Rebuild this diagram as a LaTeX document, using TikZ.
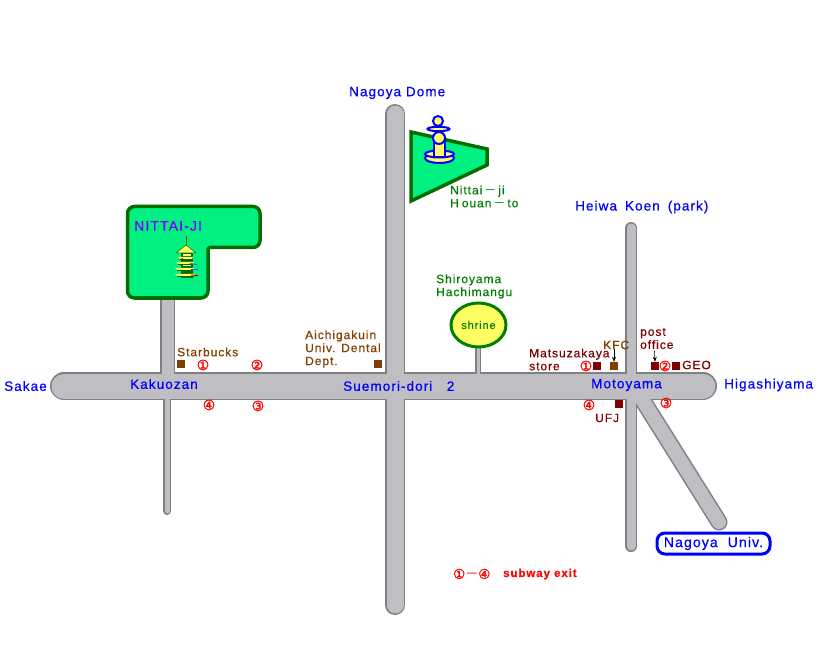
\documentclass[tikz,border=0pt]{standalone}
\usepackage{fontspec}
\usetikzlibrary{arrows.meta,shapes.geometric}
\setmainfont{Liberation Sans}
\newfontfamily\symf[FakeBold=1.5]{DejaVu Sans}
\newfontfamily\wide[LetterSpace=8,FakeBold=0.5]{Liberation Sans}
\newfontfamily\cjkf{Noto Sans CJK JP}
\newcommand{\fwdash}{\hspace{2pt}{\cjkf －}\hspace{2pt}}
\definecolor{roadfill}{RGB}{190,190,195}
\definecolor{roadedge}{RGB}{128,128,128}
\definecolor{parkfill}{RGB}{0,240,130}
\definecolor{parkedge}{RGB}{0,110,0}
\definecolor{pale}{RGB}{255,255,100}
\definecolor{lblgreen}{RGB}{0,128,0}
\definecolor{lblbrown}{RGB}{128,64,0}
\definecolor{lbldred}{RGB}{128,0,0}
\definecolor{lblpurple}{RGB}{128,0,255}
\tikzset{
  x=1pt,y=-1pt,
  roadedgeS/.style={draw=roadedge,line cap=round,line width=#1+3pt},
  roadfillS/.style={draw=roadfill,line cap=round,line width=#1},
  park/.style={draw=parkedge,fill=parkfill,line width=3.5pt,line join=round},
  place/.style={font=\wide\fontsize{13.5}{13.5}\selectfont,text=blue,inner sep=0pt,anchor=west},
  brownlab/.style={font=\wide\fontsize{12}{13}\selectfont,text=lblbrown,inner sep=0pt,anchor=west,align=left},
  redlab/.style={font=\wide\fontsize{12}{13}\selectfont,text=lbldred,inner sep=0pt,anchor=west,align=left},
  greenlab/.style={font=\wide\fontsize{12}{13}\selectfont,text=lblgreen,inner sep=0pt,anchor=west,align=left},
  exitmark/.style={font=\symf\fontsize{14}{14}\selectfont,text=red,inner sep=0pt},
  shopb/.style={fill=lblbrown,minimum size=8pt,inner sep=0pt},
  shopr/.style={fill=lbldred,minimum size=8pt,inner sep=0pt},
  statue/.style={draw=blue,fill=pale,line width=2pt},
  roof/.style={fill=pale,draw=parkedge,line width=.5pt},
  pointer/.style={draw=black,line width=.6pt,-{Stealth[length=5pt,width=4pt]}}
}
\begin{document}
\begin{tikzpicture}
\useasboundingbox (0,0) rectangle (817,647);
\fill[white] (0,0) rectangle (817,647);
% roads: edges first, then fills so that the junctions merge
\def\roads#1{%
  \draw[#1=25pt] (64,386) -- (703,386);
  \draw[#1=17pt] (395,114) -- (395,605);
  \draw[#1=12pt] (167.5,295) -- (167.5,386);
  \draw[#1=5pt] (167,386) -- (167,511);
  \draw[#1=9pt] (631,228) -- (631,546);
  \draw[#1=14pt] (640,396) -- (719,522);
  \draw[#1=3pt] (478,345) -- (478,386);
}
\roads{roadedgeS}
\roads{roadfillS}
% Nittai-ji park
\draw[park] (127.5,214) [rounded corners=7pt] -- (127.5,206.5) -- (260,206.5) -- (260,247.5) [rounded corners=1.5pt] -- (208,247.5) [rounded corners=7pt] -- (208,298) -- (127.5,298) -- (127.5,214);
\node[font=\wide\fontsize{14}{14}\selectfont,text=lblpurple,inner sep=0pt,anchor=west] (nittai) at (134,226) {NITTAI-JI};
% pagoda
\draw[parkedge,line width=1pt] (186,236) -- (186,247);
\fill[parkedge] (181,252) rectangle (193,278);
\fill[pale] (183,254) rectangle (191,256);
\fill[pale] (183,263) rectangle (191,266);
\foreach \yy/\xa/\xb in {258/178/196,263/176/197,269/175/197,275/175/198}{
  \fill[pale] (\xa,\yy-1) -- (\xb-3,\yy-1) -- (\xb-4,\yy+1) -- (\xa+2,\yy+1) -- cycle;
  \draw[parkedge,line width=.6pt] (\xa+2,\yy+1.5) -- (\xb-4,\yy+1.5);
}
\draw[red!70!black,line width=1pt] (183,258.5) -- (180,260);
\draw[blue!70!cyan,line width=.8pt] (190,263.5) -- (197,264.5);
\draw[blue!70!cyan,line width=.8pt] (191,269.5) -- (198,269.5);
\draw[red!70!black,line width=1pt] (191,275) -- (198,275.5);
\draw[roof] (176,253) -- (186,245) -- (196,253) -- cycle;
% Houan-to park
\draw[park,line join=miter] (411,132) -- (487,149) -- (487,165) -- (411,201) -- cycle;
% statue
\draw[statue] (439.5,158) ellipse [x radius=14.5,y radius=5];
\draw[statue] (439.5,154) ellipse [x radius=14.5,y radius=3.5];
\draw[statue] (434,142) rectangle (445,157);
\draw[statue] (439,138) circle [radius=6];
\draw[statue] (438.5,129) ellipse [x radius=11,y radius=2.2];
\draw[statue] (438,121) circle [radius=5];
% shrine
\node[draw=lblgreen,fill=pale,line width=3pt,ellipse,minimum width=55pt,minimum height=44pt,inner sep=0pt,font=\wide\fontsize{11}{11}\selectfont,text=lblgreen] (shrine) at (478.5,325) {shrine};
% univ box
\node[draw=blue,fill=white,line width=3pt,rounded corners=8pt,minimum width=113pt,minimum height=21pt,inner sep=0pt,font=\wide\fontsize{14}{14}\selectfont,text=blue] (univ) at (713.5,543.5) {Nagoya\ \ Univ.};
% place names
\node[place] (dome) at (349,93) {Nagoya Dome};
\node[place] (heiwa) at (575,207) {Heiwa\hspace{8pt}Koen\hspace{8pt}(park)};
\node[place] (sakae) at (4,386) {Sakae};
\node[place] (higashi) at (724,385) {Higashiyama};
\node[place] (kaku) at (130,384) {Kakuozan};
\node[place] (sue) at (343,386) {Suemori-dori\ \ \ 2};
\node[place] (moto) at (591,385) {Motoyama};
% labels
\node[greenlab] (houan) at (450,196.5) {Nittai\fwdash ji\\H\hspace{3pt}ouan\fwdash to};
\node[greenlab] (hachi) at (436,286.5) {Shiroyama\\Hachimangu};
\node[brownlab] (star) at (177,352) {Starbucks};
\node[brownlab] (aichi) at (305,349) {Aichigakuin\\Univ. Dental\\Dept.};
\node[redlab] (matsu) at (529,359.5) {Matsuzakaya\\store};
\node[brownlab] (kfc) at (603,345) {KFC};
\node[redlab] (post) at (640,338.5) {post\\office};
\node[redlab] (geo) at (682,365) {GEO};
\node[redlab] (ufj) at (595,418) {UFJ};
% shops
\node[shopb] (sstar) at (181,364) {};
\node[shopb] (saichi) at (378,364) {};
\node[shopr] (smatsu) at (597,366) {};
\node[shopb] (skfc) at (614,366) {};
\node[shopr] (spost) at (655,366) {};
\node[shopr] (sgeo) at (676,366) {};
\node[shopr] (sufj) at (619,404) {};
\draw[pointer] (kfc.south -| skfc) -- (skfc.north);
\draw[pointer] (654.5,351) -- (spost.north);
% subway exits
\node[exitmark] (ka1) at (203,365) {①};
\node[exitmark] (ka2) at (257,365) {②};
\node[exitmark] (ka3) at (258,406) {③};
\node[exitmark] (ka4) at (209,405) {④};
\node[exitmark] (mo1) at (586,366) {①};
\node[exitmark] (mo2) at (665,366) {②};
\node[exitmark] (mo3) at (666,403) {③};
\node[exitmark] (mo4) at (589,405) {④};
\node[font=\symf\fontsize{13.5}{13.5}\selectfont,text=red,inner sep=0pt,anchor=west] (lega) at (453,574) {①{\cjkf\fontsize{13}{13}\selectfont －}④};
\node[font=\wide\bfseries\fontsize{11.5}{12}\selectfont,text=red,inner sep=0pt,anchor=west] (legb) at (503,574) {subway exit};
\end{tikzpicture}
\end{document}
